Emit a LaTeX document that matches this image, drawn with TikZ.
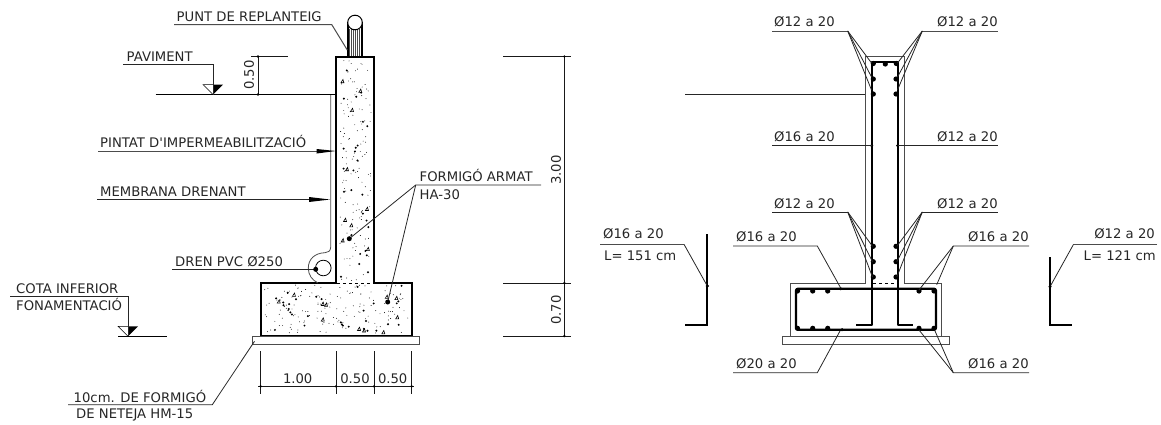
\documentclass[tikz,border=0pt]{standalone}
\usepackage{fontspec}
\setmainfont{DejaVu Sans}
\newfontfamily\plainfont{DejaVu Sans}
\tikzset{
  lb/.style={anchor=base west, inner sep=0pt, font=\fontsize{13.2}{14}\selectfont, text=black!85},
  lbr/.style={lb, anchor=base east},
  ld/.style={line width=0.8pt, black!85},
  lu/.style={line width=1pt, black!70},
  dm/.style={line width=0.7pt, black!90},
  co/.style={line width=2pt, line join=miter},
  cs/.style={line width=0.8pt, black!70},
  bar/.style={line width=2.2pt, line join=round},
  gr/.style={line width=1.3pt}
}
% stipple of the concrete
\newcommand{\conc}[5]{
  \foreach \i in {1,...,#5}{
    \pgfmathsetmacro\px{#1+rnd*(#3-#1)}
    \pgfmathsetmacro\py{#2+rnd*(#4-#2)}
    \fill (\px,\py) circle (0.45);
  }
  \foreach \i in {1,...,\the\numexpr#5/5\relax}{
    \pgfmathsetmacro\px{#1+rnd*(#3-#1)}
    \pgfmathsetmacro\py{#2+rnd*(#4-#2)}
    \fill (\px,\py) circle (1.1);
  }
  \foreach \i in {1,...,\the\numexpr#5/14\relax}{
    \pgfmathsetmacro\px{#1+rnd*(#3-#1)}
    \pgfmathsetmacro\py{#2+rnd*(#4-#2)}
    \draw[line width=0.6pt] (\px-1.5,\py+1.5) -- (\px+1.5,\py+1.5) -- (\px+0.5,\py-1.8) -- cycle;
  }
}
\newcommand{\tk}[1]{\fill (#1) circle (1.3);}
\begin{document}
\begin{tikzpicture}[x=1pt,y=-1pt]
	\useasboundingbox (0,0) rectangle (1161,424);
	\pgfmathsetseed{2024}
	% left section
	\conc{339}{60}{371}{281}{130}
	\conc{264}{285}{408}{333}{150}
	\draw[co] (336,56.5) -- (374,56.5) -- (374,283) -- (411.7,283) -- (411.7,336) -- (260.7,336) -- (260.7,283) -- (336,283) -- cycle;
	\fill[white] (337,282) rectangle (373,284);
	\draw[dashed, line width=0.6pt] (337,283) -- (373,283);
	\draw[cs] (252.7,336) rectangle (419.3,344);
	% pin
	\fill[white] (347.3,23) rectangle (362.7,56);
	\foreach \x in {349.5,351.5,...,361}
		\draw[line width=0.5pt, black!70] (\x,29) -- (\x,56);
	\draw[line width=1.8pt] (348,56) -- (348,23) (362,56) -- (362,23);
	\draw[line width=1pt, fill=white] (355,22.5) circle (7.3);
	% membrane and drain
	\draw[cs] (330.7,94.5) -- (330.7,247) .. controls (330.7,251) and (328,252.7) .. (325,252.7) .. controls (315,253) and (308.3,259) .. (308.3,268) .. controls (308.3,275) and (312,280) .. (318,283);
	\draw[line width=0.8pt] (323.3,268) circle (7.8);
	% levels
	\draw[gr] (155.7,94.5) -- (336,94.5);
	\draw[line width=0.8pt] (118,336.3) -- (167,336.3);
	\node[lb] (pav) at (126.5,61) {PAVIMENT};
	\node[lb] (cota) at (16,293.3) {COTA INFERIOR};
	\node[lb] (fona) at (16,310.3) {FONAMENTACIÓ};
	\coordinate (pavtip) at (213,94.5);
	\coordinate (cotatip) at (128,336.3);
	\foreach \n in {pavtip,cotatip}{
		\fill (\n) -- ++(0,-10) -- ++(10,0) -- cycle;
		\draw[line width=0.5pt] (\n) -- ++(-10,-10) -- ++(10,0);
	}
	\draw[ld] (123,64.5) -- (213,64.5) -- (pavtip);
	\draw[ld] (10,296.3) -- (128,296.3) -- (cotatip);
	% notes
	\node[lb] (punt) at (176.5,21) {PUNT DE REPLANTEIG};
	\draw[lu] (174,24.5) -- (331.7,24.5) -- (347.3,50);
	\node[lb] (pint) at (100,147.5) {PINTAT D{\plainfont'}IMPERMEABILITZACIÓ};
	\draw[lu] (98,151) -- (318,151);
	\fill (316.7,149) -- (336,151) -- (316.7,153.5) -- cycle;
	\node[lb] (memb) at (100,196) {MEMBRANA DRENANT};
	\draw[ld] (97,199.5) -- (310,199.5);
	\fill (309,197) -- (330,199.5) -- (309,202) -- cycle;
	\node[lb] (form) at (419.5,181.7) {FORMIGÓ ARMAT};
	\node[lb] (ha) at (419.5,199) {HA-30};
	\coordinate (dota) at (349.3,238.7);
	\coordinate (dotb) at (387.7,302);
	\draw[ld] (541,185) -- (415.7,185) -- (dota);
	\draw[ld] (415.7,185) -- (dotb);
	\fill (dota) circle (2.5) (dotb) circle (2.5);
	\node[lb] (dren) at (175,266) {DREN PVC Ø250};
	\coordinate (dotc) at (315.7,269.3);
	\draw[ld] (172,269.3) -- (dotc);
	\fill (dotc) circle (2.5);
	\node[lb] (neta) at (73.5,402) {10cm. DE FORMIGÓ};
	\node[lb] (netb) at (76,418.7) {DE NETEJA HM-15};
	\draw[ld] (68,404.7) -- (212.3,404.7) -- (254.5,341.3);
	% dimensions
	\draw[dm] (258,56.5) -- (258,94.5) (251,56.5) -- (288,56.5);
	\tk{258,56.5} \tk{258,94.5}
	\node[lb, anchor=center, rotate=90] (da) at (249,75) {0.50};
	\draw[dm] (503.3,56.5) -- (571,56.5) (503.3,283) -- (571,283) (503.3,336) -- (571,336);
	\draw[dm] (564.3,56.5) -- (564.3,336);
	\tk{564.3,56.5} \tk{564.3,283} \tk{564.3,336}
	\node[lb, anchor=center, rotate=90] (db) at (556,170) {3.00};
	\node[lb, anchor=center, rotate=90] (dc) at (556,310) {0.70};
	\draw[dm] (258,386.3) -- (414,386.3);
	\foreach \x in {260.7,336,374,411.7}{
		\draw[dm] (\x,351.3) -- (\x,393.7);
		\tk{\x,386.3}
	}
	\node[lb, anchor=center] (de) at (297.7,378.5) {1.00};
	\node[lb, anchor=center] (df) at (355,378.5) {0.50};
	\node[lb, anchor=center] (dg) at (392.7,378.5) {0.50};
	%
	% right section
	\draw[cs] (865.3,283) -- (865.3,56.7) -- (904,56.7) -- (904,283) -- (941.7,283) -- (941.7,336) -- (790.3,336) -- (790.3,283) -- cycle;
	\draw[cs] (782.7,336) rectangle (949.3,344);
	\draw[ld] (685,94.3) -- (865.3,94.3);
	\draw[dashed, line width=0.8pt] (873,283) -- (897,283);
	% bars
	\draw[bar] (856,325.3) -- (871.7,325.3) -- (871.7,62) -- (897.7,62) -- (897.7,325.3) -- (913.3,325.3);
	\draw[bar, rounded corners=2pt] (796,288.7) rectangle (936,329.7);
	\foreach \x/\y in {873.3/63.5,885.3/64,896.3/63.5,873.3/79,896/79,873.3/94,896/94,873.3/246.3,896/246.3,873.3/261.7,896/261.7,873.3/277,896/277,797.5/291,812.7/291,827.7/291,919/291,934/291,797.5/328.3,812.7/328.3,827.7/328.3,919/328.3,934/328.3}
		\fill (\x,\y) circle (2.6);
	\foreach \x/\y in {871.7/145.7,897.7/145.7,840.7/288.7,842/329.7}
		\fill (\x,\y) circle (1.7);
	% labels of the bars
	\node[lb] (ra) at (774,26.7) {Ø12 a 20};
	\node[lb] (rb) at (937,26.7) {Ø12 a 20};
	\node[lb] (rc) at (774,141.7) {Ø16 a 20};
	\node[lb] (rd) at (937,141.7) {Ø12 a 20};
	\node[lb] (re) at (774,208.3) {Ø12 a 20};
	\node[lb] (rf) at (937,208.3) {Ø12 a 20};
	\node[lb] (rg) at (736,241) {Ø16 a 20};
	\node[lb] (rh) at (968,241) {Ø16 a 20};
	\node[lb] (ri) at (736,368.7) {Ø20 a 20};
	\node[lb] (rj) at (968,368.7) {Ø16 a 20};
	\draw[lu] (772,31) -- (847.7,31) (922.3,31) -- (997.7,31);
	\draw[ld] (772,145.7) -- (871.7,145.7) (897.7,145.7) -- (998,145.7);
	\draw[ld] (772,212) -- (847.7,212) (922.3,212) -- (998,212);
	\foreach \y in {63,77,90}{
		\draw[ld] (847.7,31) -- (871.5,\y);
		\draw[ld] (922.3,31) -- (897.5,\y);
	}
	\foreach \y in {246.3,261.7,277}{
		\draw[ld] (847.7,212) -- (872.5,\y);
		\draw[ld] (922.3,212) -- (896.8,\y);
	}
	\draw[ld] (733,246) -- (817.3,246) -- (840.7,288);
	\draw[ld] (1029,246) -- (953.3,246) -- (919,290);
	\draw[ld] (953.3,246) -- (936.7,284.7);
	\draw[ld] (733,372.7) -- (817.3,372.7) -- (840,331);
	\draw[ld] (1029,372.7) -- (953.3,372.7) -- (919,330);
	\draw[ld] (953.3,372.7) -- (935,331);
	%
	% loose bars
	\node[lb] (sa) at (603,238.3) {Ø16 a 20};
	\node[lb] (sb) at (604,260) {L= 151 cm};
	\coordinate (sc) at (707.3,286);
	\draw[bar, line join=miter] (707.3,234.3) -- (707.3,324.7) -- (685,324.7);
	\draw[lu] (600,244.3) -- (684,244.3);
	\draw[ld] (684,244.3) -- (sc);
	\fill (sc) circle (1.7);
	\node[lbr] (sd) at (1155,238.3) {Ø12 a 20};
	\node[lbr] (se) at (1156,260) {L= 121 cm};
	\coordinate (sf) at (1050,286.7);
	\draw[bar, line join=miter] (1050,257) -- (1050,325) -- (1072,325);
	\draw[lu] (1157,244.7) -- (1073.3,244.7);
	\draw[ld] (1073.3,244.7) -- (sf);
	\fill (sf) circle (1.7);
\end{tikzpicture}
\end{document}
